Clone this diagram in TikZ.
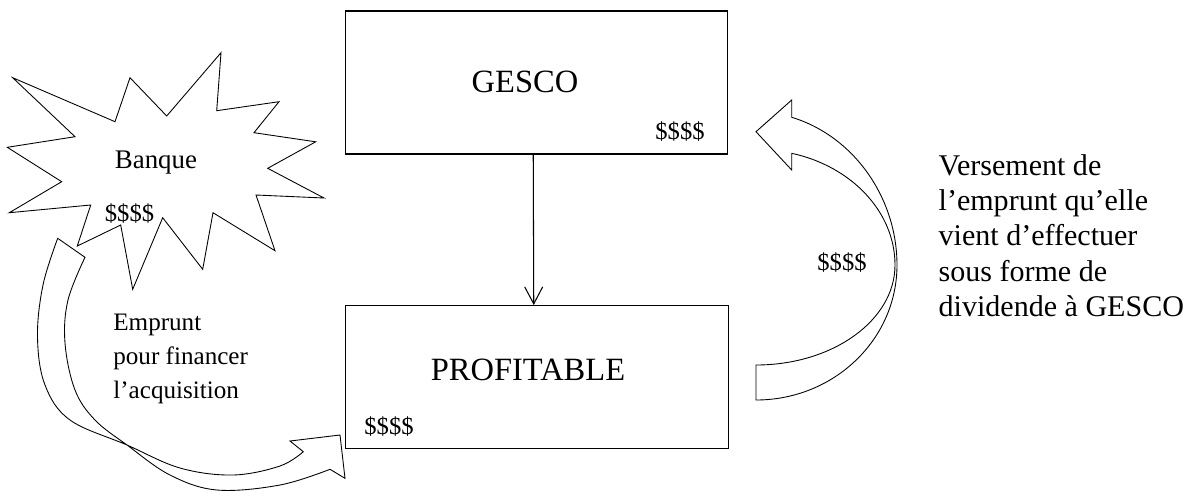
\documentclass[tikz,border=0pt]{standalone}
\usepackage{fontspec}
\setmainfont{Liberation Serif}[Ligatures=CommonOff]
\usepackage{tikz}
\usetikzlibrary{arrows.meta}

\begin{document}
\begin{tikzpicture}[x=0.02cm, y=-0.02cm,
  boite/.style={draw, line width=0.6pt, rectangle, minimum width=7.66cm, minimum height=2.86cm, inner sep=0pt},
  nom/.style={inner sep=0pt, font=\fontsize{18.5}{22}\selectfont},
  argent/.style={inner sep=0pt, font=\fontsize{14}{17}\selectfont},
  bande/.style={draw, line width=0.5pt, line join=miter}]
\useasboundingbox (0,0) rectangle (1191,491);

% Nodes
\node[boite] (gesco) at (536.5,82.5) {};
\node[boite] (profit) at (537,377) {};
\node[nom] (gescotxt) at (525,82) {GESCO};
\node[nom] (profittxt) at (528,370) {PROFITABLE};
\node[argent] (gescoargent) at (680,131.7) {\$\$\$\$};
\node[argent] (profitargent) at (389,426.7) {\$\$\$\$};

% Banque (etoile)
\draw[bande] (12.7,77.7) -- (115,121.7) -- (130,77.7) -- (166.7,116) -- (221,52.7)
  -- (216.7,110.7) -- (279,101.7) -- (254,132.7) -- (315.7,141.8) -- (267.7,168.3)
  -- (324,198) -- (256,195) -- (275,250.7) -- (213,212.7) -- (202.7,269.3)
  -- (162.7,217.7) -- (132.7,289.3) -- (120.7,225) -- (77.3,246) -- (90.7,205)
  -- (9.3,212.7) -- (61.7,181.7) -- (7.3,147.3) -- (75,136.7) -- cycle;
\node[inner sep=0pt, font=\fontsize{15.3}{18}\selectfont] (banque) at (156,163) {Banque};
\node[argent] (banqueargent) at (129.5,213.3) {\$\$\$\$};

% Emprunt (fleche courbe a gauche)
\draw[bande] plot[smooth, tension=0.6] coordinates {(57.7,238.3) (43,285) (37.5,337) (45,385) (70,420) (127,445) (180,468) (233,475) (280,466) (303.3,451.7)}
  -- (290,441) -- (340,435) -- (345,478.3) -- (330,469.3)
  -- plot[smooth, tension=0.6] coordinates {(330,469.3) (280,485) (217,490) (170,475) (127,445) (95,420) (75,390) (65,343) (68,300) (85,257.3)}
  -- cycle;
\node[anchor=north west, align=left, inner sep=0pt, font=\fontsize{14.3}{19.3}\selectfont] (emprunt) at (113,314) {Emprunt\\pour financer\\l’acquisition};

% Versement (fleche courbe a droite)
\draw[bande] (756,131.7) -- (791.7,100) -- (791.7,117.3)
  .. controls (853.7,136) and (897,197.8) .. (897,265)
  .. controls (897,339.6) and (833.9,400) .. (756,400)
  -- (756,365)
  .. controls (832.8,365) and (895,320.2) .. (895,265)
  .. controls (895,212.5) and (852.3,166.5) .. (791.7,153.3)
  -- (791.7,170) -- cycle;
\node[argent] (versementargent) at (842,263) {\$\$\$\$};
\node[anchor=north west, align=left, inner sep=0pt, font=\fontsize{17.1}{20}\selectfont] (versement) at (938.3,154.5) {Versement de\\l’emprunt qu’elle\\vient d’effectuer\\sous forme de\\dividende à GESCO};

% Edges
\draw[line width=0.6pt, -{Straight Barb[length=0.34cm, width=0.36cm]}] ([xshift=-0.065cm]gesco.south) -- ([xshift=-0.065cm]profit.north);

\end{tikzpicture}
\end{document}
